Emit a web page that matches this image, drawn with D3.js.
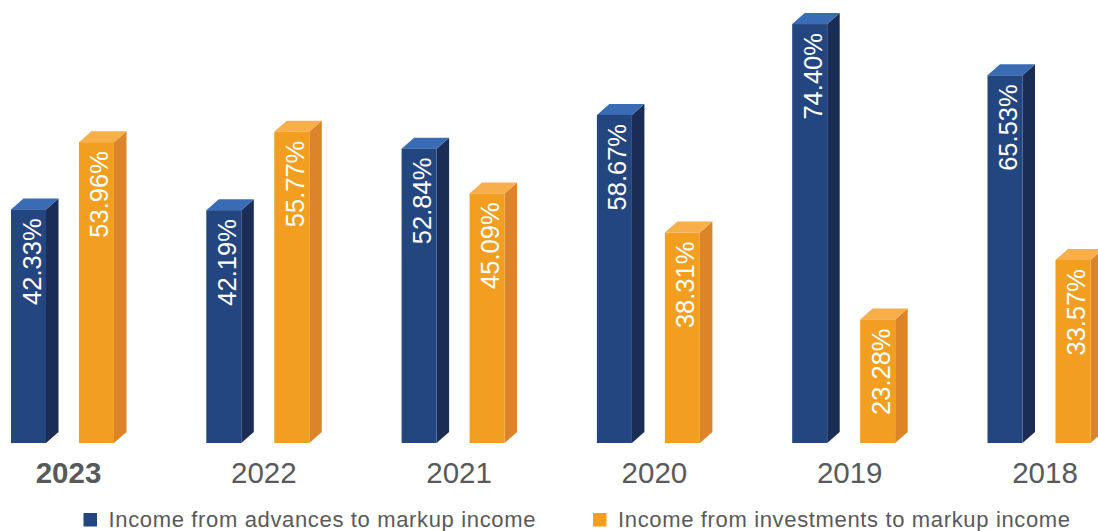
<!DOCTYPE html>
<html>
<head>
<meta charset="utf-8">
<script src="https://cdn.jsdelivr.net/npm/d3@7"></script>
<style>
  html, body { margin: 0; padding: 0; background: #ffffff; }
  svg { display: block; font-family: "Liberation Sans", Arial, Helvetica, sans-serif; }
</style>
</head>
<body>
<svg id="chart" width="1098" height="531"></svg>
<script>
// Yearly ratios of markup income (%)
const years = ["2023", "2022", "2021", "2020", "2019", "2018"];
const seriesNames = ["Income from advances to markup income", "Income from investments to markup income"];
const advances = [42.33, 42.19, 52.84, 58.67, 74.40, 65.53];
const investments = [53.96, 55.77, 45.09, 38.31, 23.28, 33.57];
const highlightYear = "2023";

const palette = [
  { front: "#234580", side: "#1b2d57", top: "#3a6cb6" },
  { front: "#f29f21", side: "#dc8429", top: "#f8ae4a" }
];

const svg = d3.select("#chart");

// Group scale: one band per year
const step = 195.3;
const firstCenter = 68.5;
const x0 = d3.scaleBand()
  .domain(years)
  .range([firstCenter - step / 2, firstCenter - step / 2 + step * years.length])
  .padding(0);

// Inner scale: two bars per year
const x1 = d3.scaleBand()
  .domain([0, 1])
  .range([x0.bandwidth() / 2 - 57.5, x0.bandwidth() / 2 + 45.5])
  .paddingInner(0.485)
  .paddingOuter(0);

// Value scale; floor of the axis sits a little above zero
const y = d3.scaleLinear().domain([1.9, 80]).range([443, -8.3]);
const base = y(1.9);

// 3D extrusion offsets
const dx = 12.5, dy = 11;

const rows = [];
years.forEach((yr, i) => {
  [advances[i], investments[i]].forEach((v, s) => rows.push({ year: yr, s, v }));
});

const g = svg.append("g");

const bar = g.selectAll("g.bar")
  .data(rows)
  .join("g")
  .attr("class", "bar")
  .attr("transform", d => `translate(${x0(d.year) + x1(d.s)},0)`);

const bw = x1.bandwidth();

// right side face
bar.append("path")
  .attr("fill", d => palette[d.s].side)
  .attr("d", d => {
    const t = y(d.v);
    return `M${bw},${t} L${bw + dx},${t - dy} L${bw + dx},${base - dy} L${bw},${base} Z`;
  });

// top face
bar.append("path")
  .attr("fill", d => palette[d.s].top)
  .attr("d", d => {
    const t = y(d.v);
    return `M0,${t} L${dx},${t - dy} L${bw + dx},${t - dy} L${bw},${t} Z`;
  });

// front face
bar.append("rect")
  .attr("x", 0)
  .attr("width", bw)
  .attr("y", d => y(d.v))
  .attr("height", d => base - y(d.v))
  .attr("fill", d => palette[d.s].front);

// value labels, reading upward from the top of each bar
bar.append("text")
  .attr("transform", d => `translate(${bw / 2},${y(d.v)}) rotate(-90)`)
  .attr("x", -9)
  .attr("y", 12)
  .attr("text-anchor", "end")
  .attr("fill", "#ffffff")
  .attr("font-size", 25.5)
  .text(d => d.v.toFixed(2) + "%");

// Year axis
const xAxis = d3.axisBottom(x0).tickSize(0).tickPadding(19);
const ax = svg.append("g")
  .attr("transform", `translate(0,${base})`)
  .call(xAxis);
ax.select(".domain").remove();
ax.selectAll(".tick text")
  .attr("font-size", 29.5)
  .attr("font-family", "\"Liberation Sans\", Arial, sans-serif")
  .attr("fill", "#58595b")
  .attr("font-weight", d => d === highlightYear ? "bold" : "normal");

// Legend
const legendX = [83.5, 593];
const legend = svg.append("g")
  .selectAll("g")
  .data(seriesNames)
  .join("g")
  .attr("transform", (d, i) => `translate(${legendX[i]},513)`);
legend.append("rect")
  .attr("width", 13.5)
  .attr("height", 13.5)
  .attr("fill", (d, i) => palette[i].front);
legend.append("text")
  .attr("x", 25)
  .attr("y", 14)
  .attr("font-size", 22)
  .attr("letter-spacing", 0.65)
  .attr("fill", "#58595b")
  .text(d => d);
</script>
</body>
</html>
